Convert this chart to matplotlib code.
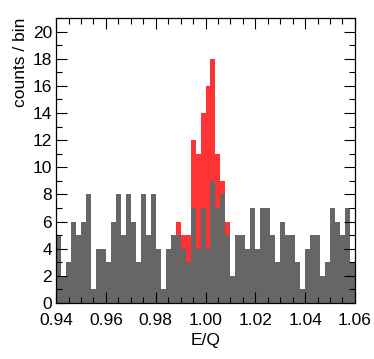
import numpy as np
import matplotlib
matplotlib.use("Agg")
import matplotlib.pyplot as plt
from matplotlib.ticker import MultipleLocator

plt.rcParams["font.family"] = ["Liberation Sans", "DejaVu Sans"]

# histogram binning: 60 bins between 0.94 and 1.06
x_min, x_max, n_bins = 0.94, 1.06, 60

# counts per bin, background (grey) component
grey_counts = [
    5, 2, 3, 6, 5, 6, 8, 1, 4, 4,
    3, 6, 8, 5, 8, 6, 3, 8, 5, 8,
    4, 1, 4, 5, 5, 4, 3, 7, 4, 7,
    4, 9, 7, 8, 5, 2, 5, 5, 4, 7,
    4, 7, 7, 5, 3, 6, 5, 5, 3, 1,
    4, 5, 5, 2, 3, 7, 6, 5, 7, 3,
]
# total counts per bin (red = total, shown where it exceeds grey)
total_counts = list(grey_counts)
peak_bins = [24, 25, 26, 27, 28, 29, 30, 31, 32, 33, 34]
peak_totals = [6, 5, 5, 12, 11, 14, 16, 18, 11, 9, 6]
for b, v in zip(peak_bins, peak_totals):
    total_counts[b] = v

edges = np.linspace(x_min, x_max, n_bins + 1)

fig = plt.figure(figsize=(3.74, 3.59), dpi=100)
ax = fig.add_axes([0.150, 0.156, 0.799, 0.794])

ax.stairs(total_counts, edges, fill=True, color="#ff3333", linewidth=0)
ax.stairs(grey_counts, edges, fill=True, color="#666666", linewidth=0)

ax.set_xlim(x_min, x_max)
ax.set_ylim(0, 21)

ax.xaxis.set_major_locator(MultipleLocator(0.02))
ax.xaxis.set_minor_locator(MultipleLocator(0.005))
ax.yaxis.set_major_locator(MultipleLocator(2))
ax.yaxis.set_minor_locator(MultipleLocator(1))
ax.xaxis.set_major_formatter(matplotlib.ticker.FormatStrFormatter("%.2f"))

ax.tick_params(which="both", direction="in", top=True, right=True,
               labelsize=12.5, width=0.8)
ax.tick_params(which="major", length=8)
ax.tick_params(which="minor", length=4)
ax.tick_params(axis="x", pad=7)
ax.tick_params(axis="y", pad=3)
for s in ax.spines.values():
    s.set_linewidth(0.9)

ax.set_xlabel("E/Q", fontsize=12.5, labelpad=4)
ax.set_ylabel("counts / bin", fontsize=12.5, loc="top")
ax.yaxis.set_label_coords(-0.095, 1.0)

fig.savefig("out.png", dpi=100)
